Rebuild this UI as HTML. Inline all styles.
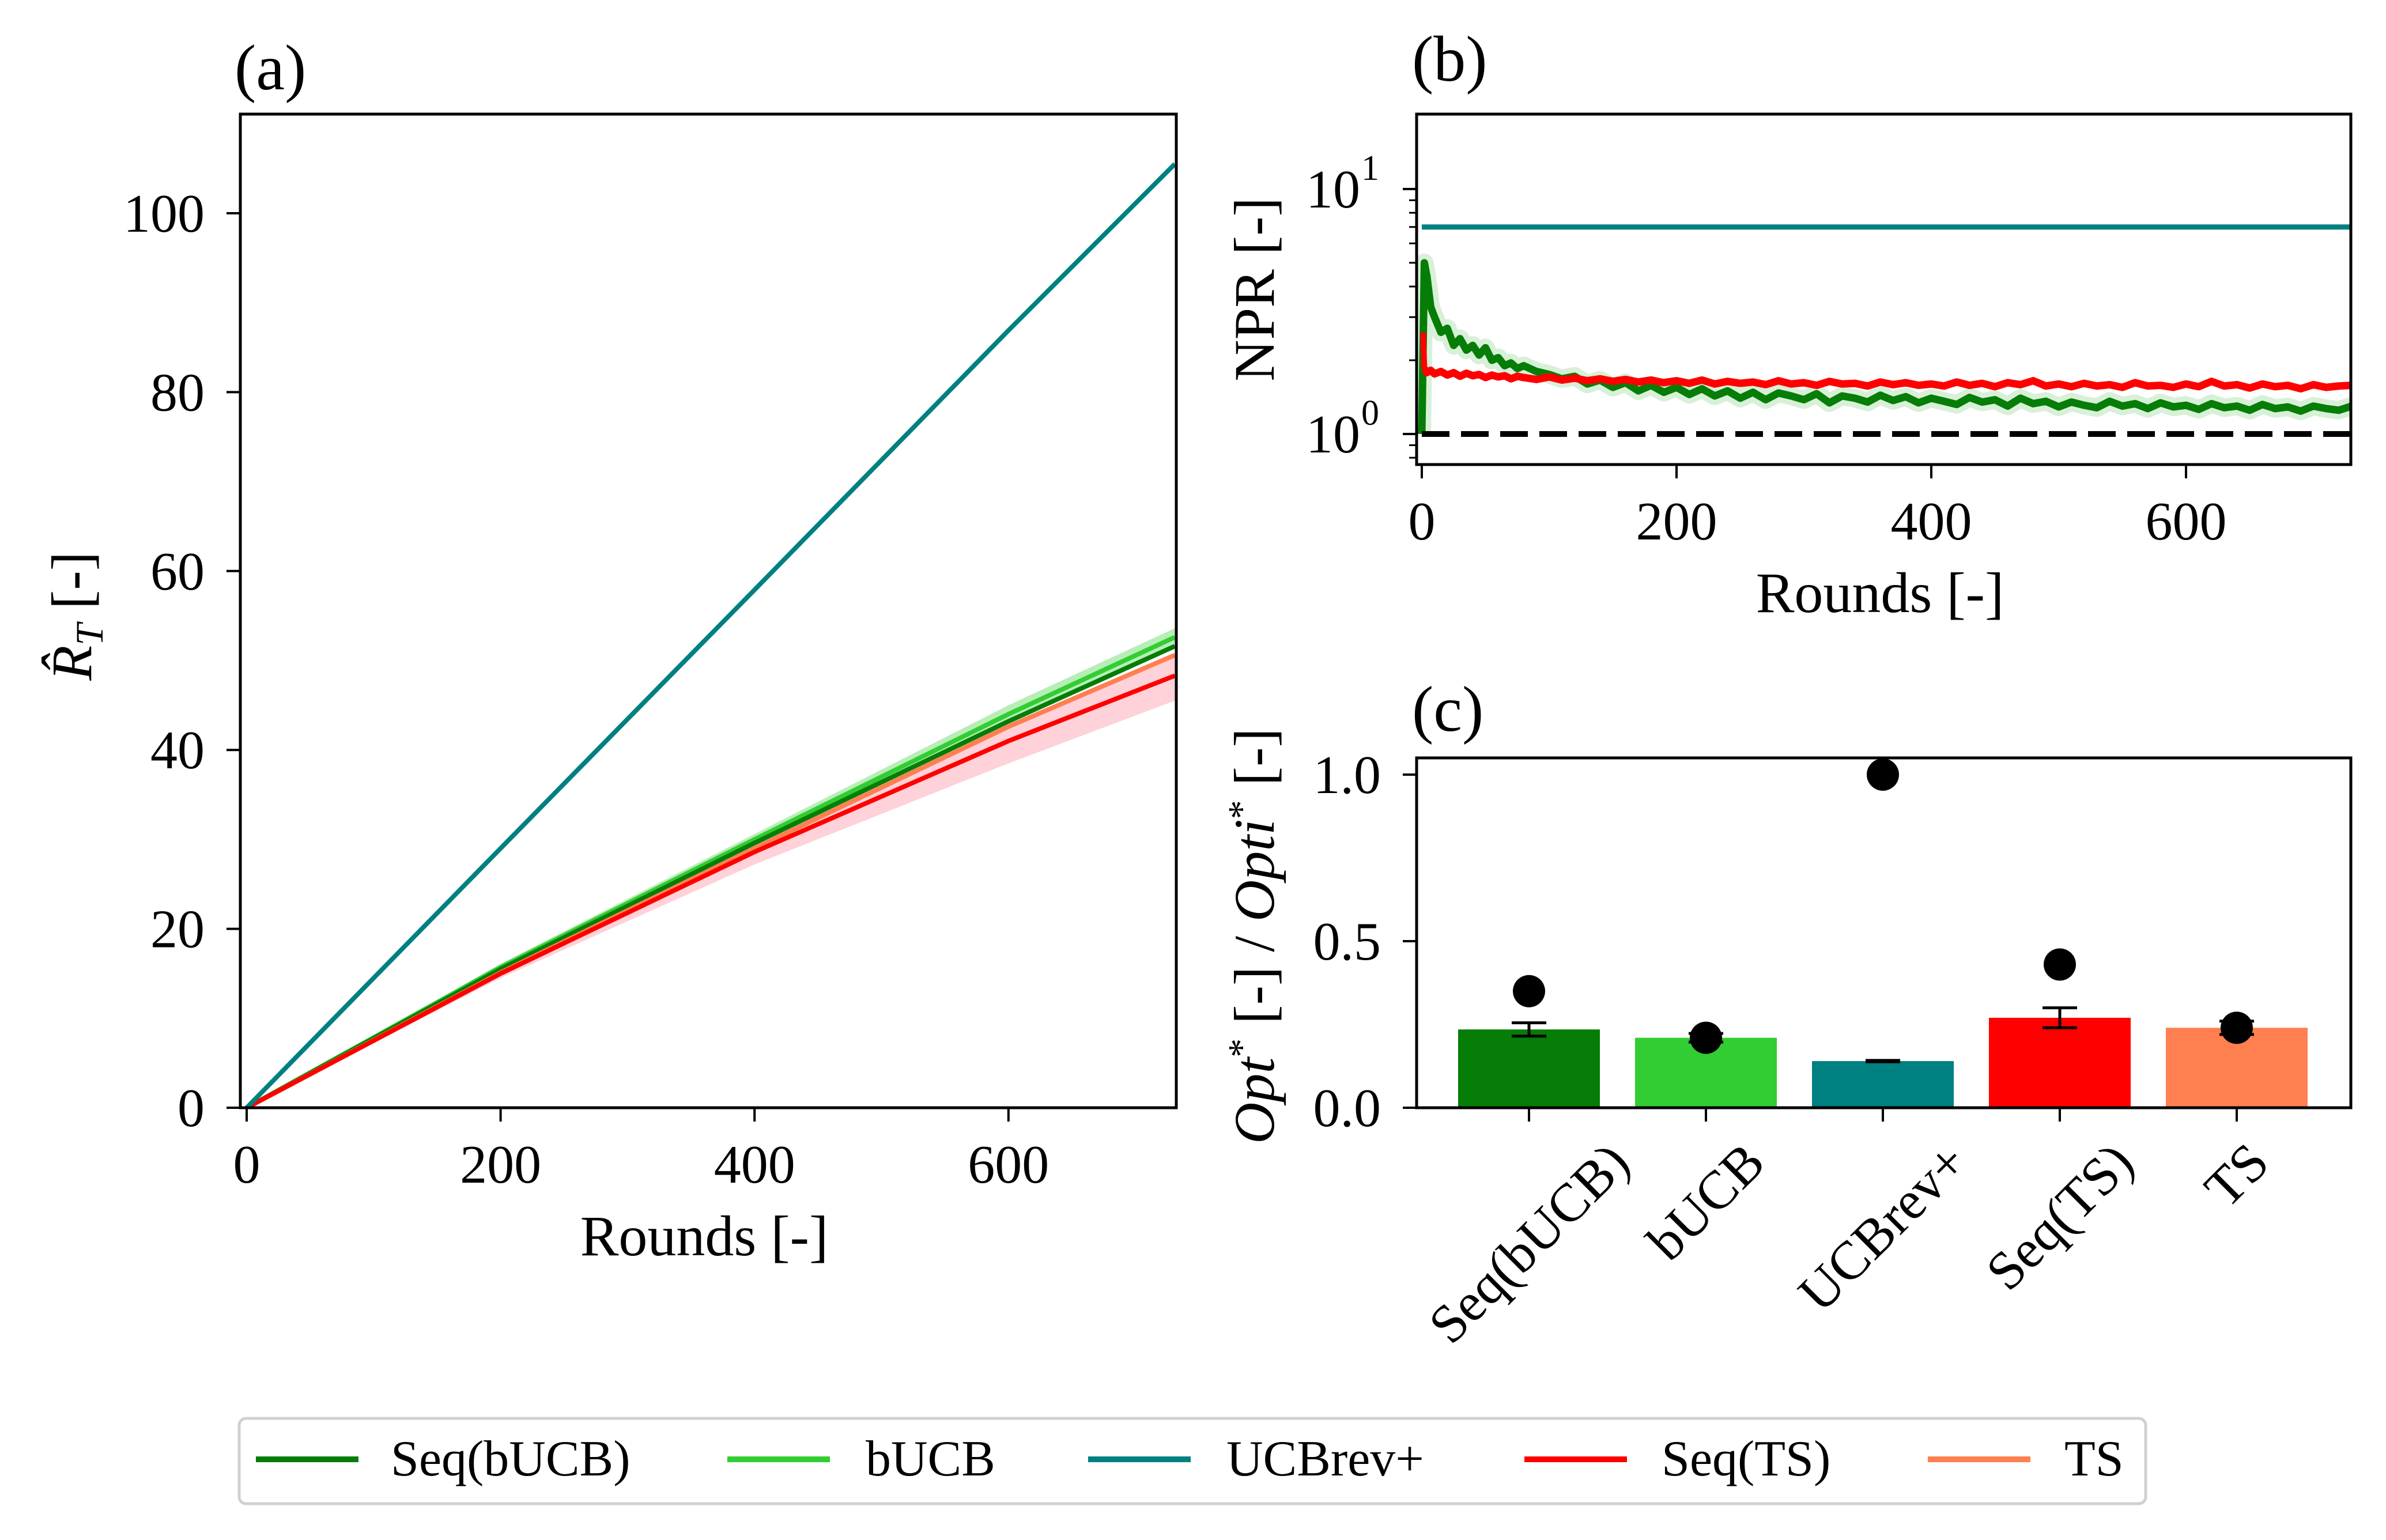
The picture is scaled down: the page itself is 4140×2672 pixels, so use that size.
<!DOCTYPE html>
<html><head><meta charset="utf-8"><style>
html,body{margin:0;padding:0;background:#fff;}
svg{display:block;font-family:"Liberation Serif","DejaVu Serif",serif;}
</style></head><body>
<svg id="fig" xmlns="http://www.w3.org/2000/svg" width="4140" height="2672" viewBox="0 0 4140 2672">
<rect width="4140" height="2672" fill="#fff"/>
<g id="pa"></g>
<g id="pb"></g>
<g id="pc"></g>
<g id="legend"></g>
</svg>
<script>
// ---- Panel (a) data ----
const aRounds = [0, 200, 400, 600, 731];
const aSeqBUCB = [0, 15.5, 29.6, 43.2, 51.6];
const aBUCB = [0, 15.7, 30.0, 44.0, 52.6];
const aBUCBLo = [0, 15.3, 29.3, 43.0, 51.6];
const aBUCBHi = [0, 16.1, 30.6, 45.0, 53.6];
const aUCBrev = [0, 29.0, 57.9, 86.9, 105.5];
const aSeqTS = [0, 15.0, 28.6, 41.0, 48.3];
const aSeqTSLo = [0, 14.5, 27.2, 38.5, 45.5];
const aSeqTSHi = [0, 15.4, 29.6, 43.0, 50.5];
const aTS = [0, 15.1, 29.0, 42.6, 50.6];
const aXTicks = [0, 200, 400, 600];
const aYTicks = [0, 20, 40, 60, 80, 100];

// ---- Panel (b) data ----
const bRounds = [0,2,4,7,10,15,20,25,30,35,40,45,50,55,60,65,70,75,80,90,100,110,120,130,140,150,160,170,180,190,200,210,220,230,240,250,260,270,280,290,300,310,320,330,340,350,360,370,380,390,400,410,420,430,440,450,460,470,480,490,500,510,520,530,540,550,560,570,580,590,600,610,620,630,640,650,660,670,680,690,700,710,720,730];
const bSeqBUCB = [1.0,5.0,4.4,3.3,3.0,2.6,2.7,2.3,2.45,2.2,2.3,2.1,2.25,2.0,2.05,1.9,1.95,1.85,1.9,1.8,1.75,1.68,1.72,1.6,1.66,1.55,1.62,1.5,1.58,1.48,1.55,1.45,1.53,1.43,1.5,1.4,1.48,1.38,1.47,1.43,1.38,1.46,1.34,1.43,1.4,1.35,1.44,1.37,1.42,1.34,1.4,1.36,1.32,1.41,1.35,1.38,1.3,1.4,1.33,1.36,1.29,1.35,1.31,1.28,1.36,1.3,1.33,1.27,1.34,1.29,1.31,1.26,1.33,1.28,1.3,1.25,1.32,1.27,1.29,1.24,1.3,1.27,1.25,1.3];
const bSeqTS = [2.6,1.85,1.78,1.82,1.76,1.8,1.74,1.78,1.72,1.77,1.73,1.75,1.7,1.74,1.71,1.73,1.68,1.72,1.7,1.67,1.71,1.66,1.69,1.65,1.68,1.64,1.67,1.63,1.66,1.62,1.65,1.61,1.66,1.6,1.64,1.61,1.63,1.59,1.65,1.6,1.62,1.58,1.64,1.6,1.61,1.57,1.63,1.59,1.62,1.58,1.6,1.57,1.63,1.58,1.61,1.56,1.62,1.59,1.65,1.57,1.6,1.56,1.61,1.57,1.59,1.55,1.62,1.57,1.58,1.55,1.6,1.56,1.64,1.57,1.59,1.54,1.6,1.56,1.58,1.53,1.59,1.55,1.57,1.58];
const bUCBrev = [7.0, 7.0];
const bUCBrevRounds = [0, 731];
const bOracle = [1.0, 1.0];
const bXTicks = [0, 200, 400, 600];

// ---- Panel (c) data ----
const cCats = ["Seq(bUCB)", "bUCB", "UCBrev+", "Seq(TS)", "TS"];
const cBars = [0.235, 0.21, 0.14, 0.27, 0.24];
const cErr = [0.02, 0.013, 0.002, 0.03, 0.02];
const cDots = [0.35, 0.21, 1.0, 0.43, 0.24];
const cYTicks = [0.0, 0.5, 1.0];
const cColors = ["#067d06", "#32cd32", "#008080", "#ff0000", "#ff7f50"];

const NS = "http://www.w3.org/2000/svg";
function mk(parent, tag, attrs, text){
  const e = document.createElementNS(NS, tag);
  for (const k in attrs) e.setAttribute(k, attrs[k]);
  if (text !== undefined) e.textContent = text;
  parent.appendChild(e); return e;
}
const TICKF = 94, LABF = 100;

// ===== Panel A =====
(function(){
  const g = document.getElementById('pa');
  const L=417,R=2041,T=198,B=1922;
  const x0=428, xs=2.203;
  const X = v => x0 + v*xs;
  const Y = v => B - v*15.52;
  const clip = mk(g,'clipPath',{id:'clipA'}); mk(clip,'rect',{x:L,y:T,width:R-L,height:B-T});
  const inner = mk(g,'g',{'clip-path':'url(#clipA)'});
  function band(lo,hi,color,op,name){
    let d='M'+aRounds.map((r,i)=>X(r)+','+Y(hi[i])).join(' L');
    d+=' L'+aRounds.slice().reverse().map((r,j)=>{const i=aRounds.length-1-j;return X(r)+','+Y(lo[i]);}).join(' L')+' Z';
    const p=mk(inner,'path',{d:d,fill:color,'fill-opacity':op});
    
    
  }
  function line(vals,color,w,name){
    const p=mk(inner,'polyline',{points:aRounds.map((r,i)=>X(r)+','+Y(vals[i])).join(' '),fill:'none',stroke:color,'stroke-width':w});
    
    
  }
  band(aBUCBLo,aBUCBHi,'#32cd32',0.35,'band-bucb');
  band(aSeqTSLo,aSeqTSHi,'#ff6680',0.3,'band-seq-ts');
  line(aBUCB,'#32cd32',8,'line-bucb');
  line(aSeqBUCB,'#067d06',8,'line-seq-bucb');
  line(aTS,'#ff7f50',8,'line-ts');
  line(aSeqTS,'#ff0000',8,'line-seq-ts');
  line(aUCBrev,'#008080',8,'line-ucbrev');
  const fr=mk(g,'rect',{x:L,y:T,width:R-L,height:B-T,fill:'none',stroke:'#000','stroke-width':5});
   
  aXTicks.forEach(v=>{
    mk(g,'line',{x1:X(v),x2:X(v),y1:B,y2:B+24,stroke:'#000','stroke-width':4});
    const t=mk(g,'text',{x:X(v),y:B+130,'font-size':TICKF,'text-anchor':'middle'},String(v));
     
  });
  aYTicks.forEach(v=>{
    mk(g,'line',{x1:L,x2:L-24,y1:Y(v),y2:Y(v),stroke:'#000','stroke-width':4});
    const t=mk(g,'text',{x:L-62,y:Y(v)+32,'font-size':TICKF,'text-anchor':'end'},String(v));
     
  });
  const xt=mk(g,'text',{x:1222,y:2178,'font-size':LABF,'text-anchor':'middle'},'Rounds [-]');
   
  const yt=mk(g,'text',{x:0,y:0,'font-size':LABF,'text-anchor':'middle',transform:'translate(158,1069) rotate(-90)'});
   
  mk(yt,'tspan',{'font-style':'italic'},'R̂');
  mk(yt,'tspan',{'font-style':'italic','font-size':68,dy:20},'T');
  mk(yt,'tspan',{dy:-20},' [-]');
  const pl=mk(g,'text',{x:407,y:155,'font-size':112},'(a)');
   
})();

// ===== Panel B =====
(function(){
  const g = document.getElementById('pb');
  const L=2458,R=4079,T=198,B=806;
  const x0=2467, xs=2.21;
  const X = v => x0 + v*xs;
  const Y = v => 753 - Math.log10(v)*425;
  const clip = mk(g,'clipPath',{id:'clipB'}); mk(clip,'rect',{x:L,y:T,width:R-L,height:B-T});
  const inner = mk(g,'g',{'clip-path':'url(#clipB)'});
  function line(xsArr,vals,color,w,name,extra){
    const a={points:xsArr.map((r,i)=>X(r)+','+Y(vals[i])).join(' '),fill:'none',stroke:color,'stroke-width':w,'stroke-linejoin':'round'};
    if(extra) Object.assign(a,extra);
    const p=mk(inner,'polyline',a);
    
    
  }
  line(bRounds,bSeqBUCB,'#7fcc7f',32,'band-seq-bucb',{'stroke-opacity':0.3});
  line(bRounds,bSeqBUCB,'#067d06',13,'line-seq-bucb');
  line(bRounds.slice(1),bSeqTS.slice(1),'#ff0000',13,'line-seq-ts');
  line([1,2],[bSeqTS[0],bSeqTS[1]],'#ff0000',10,'line-seq-ts-start');
  line(bUCBrevRounds,bUCBrev,'#008080',9,'line-ucbrev');
  line(bUCBrevRounds,bOracle,'#000',10,'line-oracle',{'stroke-dasharray':'48,20'});
  const fr=mk(g,'rect',{x:L,y:T,width:R-L,height:B-T,fill:'none',stroke:'#000','stroke-width':5});
   
  bXTicks.forEach(v=>{
    mk(g,'line',{x1:X(v),x2:X(v),y1:B,y2:B+24,stroke:'#000','stroke-width':4});
    const t=mk(g,'text',{x:X(v),y:B+130,'font-size':TICKF,'text-anchor':'middle'},String(v));
     
  });
  [1,10].forEach(v=>{
    mk(g,'line',{x1:L,x2:L-24,y1:Y(v),y2:Y(v),stroke:'#000','stroke-width':4});
    const t=mk(g,'text',{x:L-98,y:Y(v)+32,'font-size':TICKF,'text-anchor':'end'},'10');
     
    mk(g,'text',{x:L-96,y:Y(v)-16,'font-size':62,'text-anchor':'start'},v===1?'0':'1');
  });
  [0.8,0.9,2,3,4,5,6,7,8,9].forEach(v=>{
    mk(g,'line',{x1:L,x2:L-13,y1:Y(v),y2:Y(v),stroke:'#000','stroke-width':3});
  });
  const xt=mk(g,'text',{x:3262,y:1062,'font-size':LABF,'text-anchor':'middle'},'Rounds [-]');
   
  const yt=mk(g,'text',{x:0,y:0,'font-size':LABF,'text-anchor':'middle',transform:'translate(2210,502) rotate(-90)'},'NPR [-]');
   
  const pl=mk(g,'text',{x:2450,y:140,'font-size':112},'(b)');
   
})();

// ===== Panel C =====
(function(){
  const g = document.getElementById('pc');
  const L=2458,R=4079,T=1315,B=1922;
  const X = i => 2653 + i*307;
  const Y = v => B - v*578;
  const bw = 246;
  cCats.forEach((c,i)=>{
    const r=mk(g,'rect',{x:X(i)-bw/2,y:Y(cBars[i]),width:bw,height:B-Y(cBars[i]),fill:cColors[i]});
    
    
    const lo=Y(cBars[i]-cErr[i]), hi=Y(cBars[i]+cErr[i]);
    mk(g,'line',{x1:X(i),x2:X(i),y1:lo,y2:hi,stroke:'#000','stroke-width':5});
    mk(g,'line',{x1:X(i)-30,x2:X(i)+30,y1:lo,y2:lo,stroke:'#000','stroke-width':5});
    mk(g,'line',{x1:X(i)-30,x2:X(i)+30,y1:hi,y2:hi,stroke:'#000','stroke-width':5});
    const d=mk(g,'circle',{cx:X(i),cy:Y(cDots[i]),r:28,fill:'#000'});
    
    
  });
  const fr=mk(g,'rect',{x:L,y:T,width:R-L,height:B-T,fill:'none',stroke:'#000','stroke-width':5});
   
  cYTicks.forEach(v=>{
    mk(g,'line',{x1:L,x2:L-24,y1:Y(v),y2:Y(v),stroke:'#000','stroke-width':4});
    const t=mk(g,'text',{x:L-62,y:Y(v)+32,'font-size':TICKF,'text-anchor':'end'},v.toFixed(1));
     
  });
  cCats.forEach((c,i)=>{
    mk(g,'line',{x1:X(i),x2:X(i),y1:B,y2:B+24,stroke:'#000','stroke-width':4});
    const t=mk(g,'text',{x:0,y:0,'font-size':TICKF,'text-anchor':'middle','dominant-baseline':'central'},c);
     
    const w=t.getComputedTextLength(), h=66;
    const cy=B+55+(w+h)/Math.SQRT2/2;
    t.setAttribute('transform','translate('+X(i)+','+cy+') rotate(-45)');
  });
  const yt=mk(g,'text',{x:0,y:0,'font-size':LABF,'text-anchor':'middle',transform:'translate(2210,1624) rotate(-90)'});
   
  mk(yt,'tspan',{'font-style':'italic'},'Opt');
  mk(yt,'tspan',{'font-size':66,dy:-34},'*');
  mk(yt,'tspan',{dy:34},' [-] / ');
  mk(yt,'tspan',{'font-style':'italic'},'Opti');
  mk(yt,'tspan',{'font-size':66,dy:-34},'*');
  mk(yt,'tspan',{dy:34},' [-]');
  const pl=mk(g,'text',{x:2450,y:1268,'font-size':112},'(c)');
   
})();

// ===== Legend =====
(function(){
  const g=document.getElementById('legend');
  const box=mk(g,'rect',{x:415,y:2461,width:3308,height:148,rx:12,fill:'#fff',stroke:'#d0d0d0','stroke-width':5});
   
  const names=["Seq(bUCB)","bUCB","UCBrev+","Seq(TS)","TS"];
  const lx=[444,1262,1888,2645,3345];
  const tx=[678,1502,2128,2883,3582];
  names.forEach((n,i)=>{
    const e=mk(g,'g',{});
    
    
    mk(e,'line',{x1:lx[i],x2:lx[i]+178,y1:2532,y2:2532,stroke:cColors[i],'stroke-width':10});
    mk(e,'text',{x:tx[i],y:2560,'font-size':88},n);
  });
})();
</script>
</body></html>
